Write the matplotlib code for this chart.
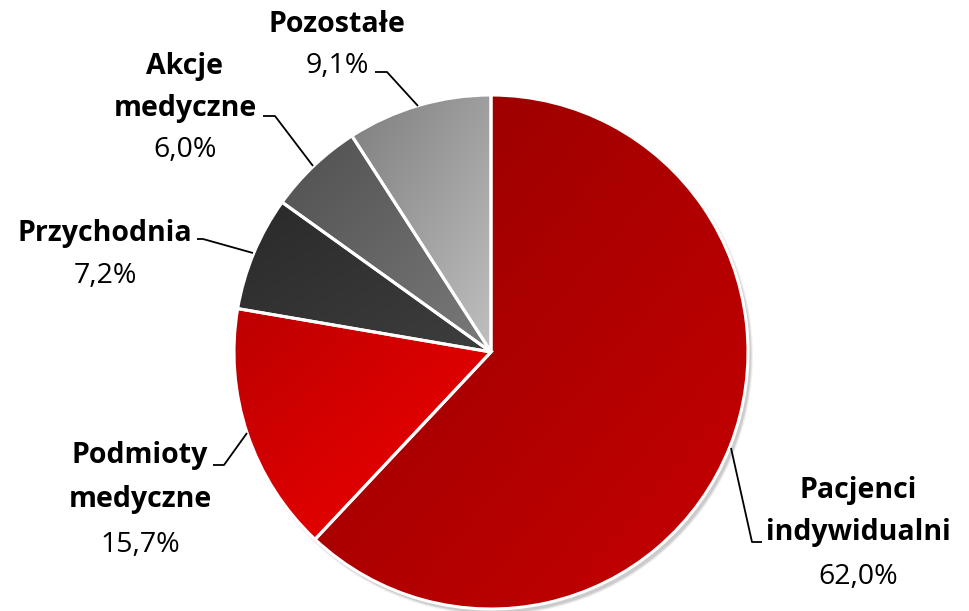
import matplotlib
matplotlib.use("Agg")
import matplotlib.pyplot as plt
import numpy as np
from matplotlib.colors import LinearSegmentedColormap
from matplotlib.patches import Circle

# ---- data ----
categories = ['Pacjenci\nindywidualni', 'Podmioty\nmedyczne', 'Przychodnia', 'Akcje\nmedyczne', 'Pozostałe']
values = [62.0, 15.7, 7.2, 6.0, 9.1]
pct_labels = ['62,0%', '15,7%', '7,2%', '6,0%', '9,1%']

colors_dark = ['#940000', '#bc0000', '#2a2a2a', '#505050', '#7e7e7e']
colors_light = ['#c80000', '#f40000', '#3e3e3e', '#7a7a7a', '#c0c0c0']

W, H = 969, 611
fig = plt.figure(figsize=(W / 100, H / 100), dpi=100)
ax = fig.add_axes([0, 0, 1, 1])

cx, cy, r = 491, H - 352, 257

# shadow
for i, a in enumerate([0.05, 0.07, 0.09]):
    ax.add_patch(Circle((cx + 3, cy - 4), r + 2 - i, facecolor='black', alpha=a, edgecolor='none', zorder=0))

wedges, _ = ax.pie(values, startangle=90, counterclock=False, center=(cx, cy), radius=r,
                   colors=colors_dark, frame=True,
                   wedgeprops=dict(edgecolor='white', linewidth=2.2))

# gradient fills (per-wedge bounding box, top-left dark -> bottom-right light)
for w, c0, c1 in zip(wedges, colors_dark, colors_light):
    t1, t2 = w.theta1, w.theta2
    ang = np.radians(np.linspace(t1, t2, 200))
    px = np.concatenate([[cx], cx + r * np.cos(ang)])
    py = np.concatenate([[cy], cy + r * np.sin(ang)])
    x0, x1, y0, y1 = px.min(), px.max(), py.min(), py.max()
    yy, xx = np.mgrid[0:1:200j, 0:1:200j]
    grad = (xx + (1 - yy)) / 2.0
    cmap = LinearSegmentedColormap.from_list('g', [c0, c1])
    im = ax.imshow(grad, cmap=cmap, vmin=0, vmax=1, extent=(x0, x1, y0, y1),
                   origin='lower', zorder=1, interpolation='bilinear', aspect='auto')
    im.set_clip_path(w)
    w.set_facecolor('none')
    w.set_zorder(2)

ax.set_xlim(0, W)
ax.set_ylim(0, H)
ax.set_aspect('equal')
ax.axis('off')

font = 'Open Sans'
fs = 20.5

def label(x, ys, name_lines, pct):
    for yb, t in zip(ys[:-1], name_lines):
        ax.text(x, H - yb, t, ha='center', va='baseline', fontsize=fs, fontweight='bold',
                family=font, color='black')
    ax.text(x, H - ys[-1], pct, ha='center', va='baseline', fontsize=fs, family=font, color='black')

label(858, [498, 540, 584], categories[0].split('\n'), pct_labels[0])
label(140, [463, 507, 552], categories[1].split('\n'), pct_labels[1])
label(105, [241, 283], categories[2].split('\n'), pct_labels[2])
label(185, [74, 116, 157], categories[3].split('\n'), pct_labels[3])
label(337, [32, 73], categories[4].split('\n'), pct_labels[4])

leaders = [
    [(731, 448), (752, 542), (762, 542)],
    [(247, 433), (224, 465), (213, 465)],
    [(253, 253), (203, 239), (197, 239)],
    [(313, 166), (275, 116), (263, 116)],
    [(418, 106), (387, 72), (375, 72)],
]
for pts in leaders:
    xs = [p[0] for p in pts]
    ys = [H - p[1] for p in pts]
    ax.plot(xs, ys, color='black', lw=1.3, zorder=3, solid_capstyle='butt')

fig.savefig('out.png', dpi=100)
